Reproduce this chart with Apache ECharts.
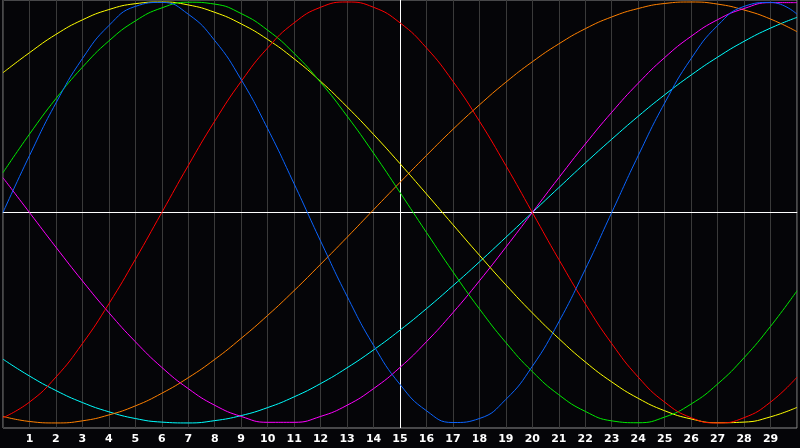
<!DOCTYPE html>
<html>
<head>
<meta charset="utf-8">
<script src="https://cdn.jsdelivr.net/npm/echarts@6/dist/echarts.min.js"></script>
<style>
html,body{margin:0;padding:0;background:#000;}
#c{width:800px;height:448px;}
</style>
</head>
<body>
<div id="c"></div>
<script>
const days = ['0','1','2','3','4','5','6','7','8','9','10','11','12','13','14','15','16','17','18','19','20','21','22','23','24','25','26','27','28','29','30'];

const physical = [0, 0.270, 0.520, 0.731, 0.888, 0.979, 0.998, 0.942, 0.817, 0.631, 0.398, 0.136, -0.136, -0.398, -0.631, -0.817, -0.942, -0.998, -0.979, -0.888, -0.731, -0.520, -0.270, 0, 0.270, 0.520, 0.731, 0.888, 0.979, 0.998, 0.942];
const emotional = [-0.975, -0.901, -0.782, -0.623, -0.434, -0.223, 0, 0.223, 0.434, 0.623, 0.782, 0.901, 0.975, 1.000, 0.975, 0.901, 0.782, 0.623, 0.434, 0.223, 0, -0.223, -0.434, -0.623, -0.782, -0.901, -0.975, -1.000, -0.975, -0.901, -0.782];
const intellectual = [0.189, 0.372, 0.541, 0.690, 0.815, 0.910, 0.972, 0.999, 0.990, 0.945, 0.866, 0.756, 0.618, 0.458, 0.282, 0.095, -0.095, -0.282, -0.458, -0.618, -0.756, -0.866, -0.945, -0.990, -0.999, -0.972, -0.910, -0.815, -0.690, -0.541, -0.372];
const aesthetic = [0.664, 0.759, 0.846, 0.915, 0.964, 0.992, 1.000, 0.986, 0.951, 0.896, 0.822, 0.730, 0.623, 0.502, 0.371, 0.232, 0.088, -0.058, -0.203, -0.344, -0.477, -0.599, -0.710, -0.805, -0.883, -0.942, -0.981, -0.999, -0.996, -0.971, -0.926];
const awareness = [-0.969, -0.993, -1.000, -0.990, -0.962, -0.919, -0.859, -0.785, -0.698, -0.598, -0.489, -0.371, -0.246, -0.118, 0.013, 0.143, 0.271, 0.395, 0.511, 0.619, 0.716, 0.801, 0.873, 0.929, 0.969, 0.993, 1.000, 0.990, 0.962, 0.919, 0.859];
const spiritual = [-0.697, -0.777, -0.846, -0.903, -0.947, -0.979, -0.996, -1.000, -0.989, -0.965, -0.927, -0.876, -0.813, -0.738, -0.653, -0.559, -0.457, -0.348, -0.235, -0.118, 0, 0.118, 0.235, 0.348, 0.457, 0.559, 0.653, 0.738, 0.813, 0.876, 0.927];
const intuitive = [0.165, 0, -0.165, -0.325, -0.476, -0.614, -0.736, -0.837, -0.916, -0.969, -0.997, -0.997, -0.969, -0.916, -0.837, -0.736, -0.614, -0.476, -0.325, -0.165, 0, 0.165, 0.325, 0.476, 0.614, 0.736, 0.837, 0.916, 0.969, 0.997, 0.997];

const seriesDefs = [
  {name:'Spiritual', data: spiritual, color:'#00ffff'},
  {name:'Awareness', data: awareness, color:'#ff8000'},
  {name:'Intuitive', data: intuitive, color:'#ff00ff'},
  {name:'Aesthetic', data: aesthetic, color:'#ffff00'},
  {name:'Intellectual', data: intellectual, color:'#00e800'},
  {name:'Emotional', data: emotional, color:'#ff0000'},
  {name:'Physical', data: physical, color:'#0a64ff'}
];

const chart = echarts.init(document.getElementById('c'), null, {renderer:'canvas'});
const series = seriesDefs.map((s, i) => ({
  name: s.name,
  type: 'line',
  data: s.data,
  smooth: 0.5,
  showSymbol: false,
  symbol: 'none',
  lineStyle: {color: s.color, width: 1},
  itemStyle: {color: s.color},
  z: 3,
  silent: true
}));
series[0].markLine = {
  silent: true,
  symbol: 'none',
  label: {show: false},
  lineStyle: {color: '#ffffff', width: 1, type: 'solid'},
  z: 2,
  data: [{xAxis: '15'}, {yAxis: 0}]
};

chart.setOption({
  animation: false,
  backgroundColor: '#050508',
  grid: {left: 0, top: 0, width: 801, height: 428, show: true, borderColor: '#8c8c8c', borderWidth: 1, backgroundColor: '#050508'},
  xAxis: {
    type: 'category',
    data: days,
    boundaryGap: false,
    axisLine: {show: true, lineStyle: {color: '#b0b0b0', width: 1}},
    axisTick: {show: false},
    splitLine: {show: true, interval: 0, lineStyle: {color: '#3a3a3a', width: 1}},
    axisLabel: {
      interval: 0,
      color: '#ffffff',
      fontFamily: 'DejaVu Sans',
      fontWeight: 'bold',
      fontSize: 11,
      margin: 6,
      formatter: (v, i) => (i === 0 || i === days.length - 1) ? '' : v
    }
  },
  yAxis: {
    type: 'value',
    min: -1.024,
    max: 1.0095,
    axisLine: {show: false},
    axisTick: {show: false},
    axisLabel: {show: false},
    splitLine: {show: false}
  },
  series: series
});
</script>
</body>
</html>
